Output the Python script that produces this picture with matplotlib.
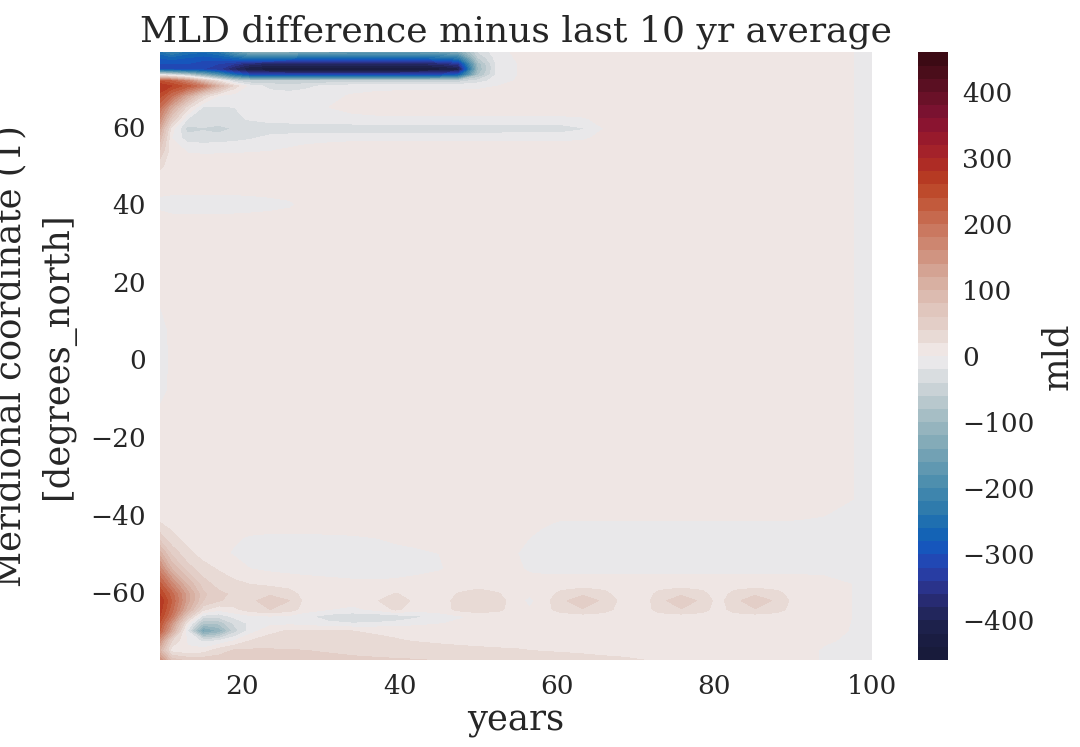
import numpy as np
import matplotlib
matplotlib.use("Agg")
import matplotlib.pyplot as plt
from matplotlib.colors import ListedColormap

plt.rcParams['font.family'] = 'DejaVu Serif'

# Time axis (years) of the gridded MLD anomaly
years = [9.5, 11, 13, 15, 17, 19, 21, 23.5, 26, 28,
         31, 34, 37, 39.5, 42, 45, 47.5, 50, 52.5, 55,
         56.5, 58, 60.5, 63.3, 66, 68.5, 71, 73, 75.8, 78.5,
         80.5, 82.5, 85.2, 88, 90.5, 94, 100]

# Southern Ocean rows
lat_south = [-77.5, -75, -72.5, -70, -68, -66.3, -64.5, -62.2, -60.5, -58, -54, -50, -46, -42]
mld_south = [
    [160, 70, 55, 52, 50, 50, 49, 48, 47, 46, 45, 44, 43, 42, 41, 39, 36, 34, 32, 31,
     30, 29, 27, 25, 23, 22, 20, 18, 16, 15, 14, 13, 12, 10, 7, -2, -6],
    [100, 10, 2, 8, 30, 42, 43, 42, 41, 40, 38, 35, 32, 30, 28, 26, 24, 23, 22, 21,
     20, 19, 18, 17, 16, 15, 14, 13, 12, 12, 11, 11, 10, 10, 7, -2, -6],
    [150, 40, -2, -25, -20, 0, 20, 28, 29, 28, 27, 25, 23, 21, 19, 17, 16, 15, 14, 14,
     13, 13, 12, 12, 12, 11, 11, 11, 11, 10, 10, 10, 10, 10, 8, 2, -6],
    [220, 120, -20, -150, -120, -50, -10, 15, 22, 22, 21, 20, 18, 17, 15, 14, 13, 12, 12, 11,
     11, 11, 11, 11, 11, 10, 10, 10, 10, 10, 10, 10, 10, 10, 8, 5, -5],
    [240, 150, 10, -80, -75, -35, -15, -8, -6, -10, -16, -20, -18, -14, -8, -2, 4, 8, 10, 11,
     11, 11, 11, 11, 11, 11, 10, 10, 10, 10, 10, 10, 10, 10, 8, 6, -5],
    [260, 190, 60, -30, -35, -15, -5, -3, -6, -15, -30, -36, -36, -33, -25, -12, -3, 3, 6, 8,
     8, 9, 9, 10, 10, 10, 10, 10, 10, 10, 10, 10, 10, 10, 8, 7, -5],
    [270, 210, 110, 25, 5, 15, 30, 40, 30, 10, 0, -5, 4, 24, 8, 10, 25, 34, 25, 8,
     2, 10, 28, 38, 28, 10, 10, 28, 38, 28, 10, 28, 38, 28, 9, 7, -5],
    [280, 220, 130, 60, 42, 32, 32, 56, 40, 14, 8, 8, 18, 34, 14, 8, 28, 38, 28, 8,
     -6, 8, 34, 56, 34, 12, 10, 32, 56, 34, 12, 32, 56, 34, 10, 7, -5],
    [260, 210, 130, 65, 45, 36, 30, 36, 28, 12, 6, 5, 8, 22, 8, 6, 22, 32, 22, 6,
     2, 6, 26, 36, 26, 9, 9, 26, 36, 26, 9, 26, 36, 26, 9, 7, -5],
    [230, 170, 100, 50, 32, 25, 20, 16, 12, 8, 5, 3, 2, 3, 5, 6, 8, 9, 9, 8,
     6, 8, 9, 10, 10, 10, 10, 10, 10, 10, 10, 10, 10, 10, 9, 7, -5],
    [170, 100, 50, 28, 18, 8, 0, -4, -6, -6, -6, -6, -5, -5, -4, -1, 3, 6, 5, 2,
     -2, -4, -5, -5, -5, -5, -5, -5, -5, -5, -5, -5, -5, -5, -5, -6, -8],
    [110, 55, 25, 12, 4, -2, -5, -6, -6, -6, -6, -6, -6, -5, -3, 0, 3, 5, 3, 0,
     -3, -5, -6, -6, -6, -6, -6, -6, -6, -6, -6, -6, -6, -6, -6, -6, -8],
    [50, 25, 14, 10, 6, 2, -2, -4, -4, -4, -3, -2, 0, 3, 5, 7, 8, 8, 6, 3,
     0, -3, -4, -4, -4, -4, -4, -4, -4, -4, -4, -4, -4, -4, -4, -5, -8],
    [20, 14, 11, 10, 10, 10, 10, 10, 10, 10, 10, 10, 10, 10, 10, 10, 10, 10, 10, 8,
     5, 2, -1, -1, -1, -1, -1, -1, -1, -1, -1, -1, -1, -1, -1, -3, -8],
]

# Low and mid latitudes
lat_mid = [-36, -20, -8, 0, 8, 25, 35, 40, 45]
mld_mid = [
    [12, 10, 10, 10, 10, 10, 10, 10, 10, 10, 10, 10, 10, 10, 10, 10, 10, 10, 10, 10,
     10, 10, 10, 10, 10, 10, 10, 10, 10, 10, 10, 10, 10, 10, 9, 8, -5],
    [10, 10, 10, 10, 10, 10, 10, 10, 10, 10, 10, 10, 10, 10, 10, 10, 10, 10, 10, 10,
     10, 10, 10, 10, 10, 10, 10, 10, 10, 10, 10, 10, 10, 10, 9, 8, -5],
    [-5, 3, 9, 10, 10, 10, 10, 10, 10, 10, 10, 10, 10, 10, 10, 10, 10, 10, 10, 10,
     10, 10, 10, 10, 10, 10, 10, 10, 10, 10, 10, 10, 10, 10, 9, 8, -5],
    [-6, 2, 9, 10, 10, 10, 10, 10, 10, 10, 10, 10, 10, 10, 10, 10, 10, 10, 10, 10,
     10, 10, 10, 10, 10, 10, 10, 10, 10, 10, 10, 10, 10, 10, 9, 8, -5],
    [-5, 3, 9, 10, 10, 10, 10, 10, 10, 10, 10, 10, 10, 10, 10, 10, 10, 10, 10, 10,
     10, 10, 10, 10, 10, 10, 10, 10, 10, 10, 10, 10, 10, 10, 9, 8, -5],
    [9, 10, 10, 10, 10, 10, 10, 10, 10, 10, 10, 10, 10, 10, 10, 10, 10, 10, 10, 10,
     10, 10, 10, 10, 10, 10, 10, 10, 10, 10, 10, 10, 10, 10, 9, 8, -5],
    [4, 5, 6, 6, 6, 6, 6, 7, 8, 10, 10, 10, 10, 10, 10, 10, 10, 10, 10, 10,
     10, 10, 10, 10, 10, 10, 10, 10, 10, 10, 10, 10, 10, 10, 9, 8, -5],
    [-2, -5, -6, -6, -6, -6, -5, -4, -2, 3, 8, 10, 10, 10, 10, 10, 10, 10, 10, 10,
     10, 10, 10, 10, 10, 10, 10, 10, 10, 10, 10, 10, 10, 10, 9, 8, -5],
    [3, 5, 6, 6, 6, 6, 6, 7, 8, 9, 10, 10, 10, 10, 10, 10, 10, 10, 10, 10,
     10, 10, 10, 10, 10, 10, 10, 10, 10, 10, 10, 10, 10, 10, 9, 8, -5],
]

# Northern high latitudes
lat_north = [50, 54, 57, 59.5, 62, 65, 68, 70.5, 71.8, 73.3, 74.8, 76.3, 77.8, 79.2]
mld_north = [
    [25, 10, 8, 8, 9, 10, 10, 10, 10, 10, 10, 10, 10, 10, 10, 10, 10, 10, 10, 10,
     10, 10, 10, 10, 10, 10, 10, 10, 10, 10, 10, 10, 10, 10, 9, 8, -5],
    [60, 8, -2, -3, -3, -3, -2, -1, 2, 5, 8, 10, 10, 10, 10, 10, 10, 10, 10, 10,
     10, 10, 10, 10, 10, 10, 10, 10, 10, 10, 10, 10, 10, 10, 9, 8, -5],
    [90, 0, -30, -32, -30, -26, -22, -12, -8, -6, -5, -4, -4, -4, -4, -4, -4, -4, -4, -4,
     -4, -4, -4, -2, 4, 8, 10, 10, 10, 10, 10, 10, 10, 10, 9, 8, -5],
    [120, 10, -48, -42, -48, -38, -34, -34, -34, -34, -34, -34, -34, -34, -34, -34, -34, -34, -33, -32,
     -32, -32, -31, -22, 0, 8, 10, 10, 10, 10, 10, 10, 10, 10, 9, 8, -5],
    [160, 60, -20, -24, -26, -24, -18, -12, -10, -8, -6, -5, -4, -4, -4, -4, -4, -4, -4, -4,
     -4, -4, -4, -2, 5, 9, 10, 10, 10, 10, 10, 10, 10, 10, 9, 8, -5],
    [200, 120, 30, -22, -22, -20, -18, -15, -8, -4, 0, 5, 8, 10, 10, 10, 10, 10, 10, 10,
     10, 10, 10, 10, 10, 10, 10, 10, 10, 10, 10, 10, 10, 10, 9, 8, -5],
    [250, 200, 120, 40, -2, -8, -10, -12, -12, -10, -5, 2, 6, 8, 8, 8, 8, 8, 9, 10,
     10, 10, 10, 10, 10, 10, 10, 10, 10, 10, 10, 10, 10, 10, 9, 8, -5],
    [280, 260, 230, 180, 100, 30, -10, -25, -30, -25, -15, -10, -8, -8, -8, -8, -6, -4, 0, 5,
     8, 10, 10, 10, 10, 10, 10, 10, 10, 10, 10, 10, 10, 10, 9, 8, -5],
    [240, 220, 170, 90, 20, -40, -60, -60, -60, -60, -55, -55, -55, -55, -55, -55, -50, -30, -8, 2,
     6, 8, 10, 10, 10, 10, 10, 10, 10, 10, 10, 10, 10, 10, 9, 8, -5],
    [0, -20, -60, -120, -180, -250, -300, -310, -310, -310, -310, -310, -310, -310, -310, -300, -270, -80, -10, 0,
     5, 8, 10, 10, 10, 10, 10, 10, 10, 10, 10, 10, 10, 10, 9, 8, -5],
    [-300, -310, -320, -320, -340, -390, -425, -440, -445, -445, -445, -445, -445, -445, -440, -435, -415, -100, -10, 0,
     5, 8, 10, 10, 10, 10, 10, 10, 10, 10, 10, 10, 10, 10, 9, 8, -5],
    [-300, -300, -300, -310, -320, -340, -370, -380, -380, -380, -380, -380, -380, -380, -380, -370, -340, -90, -10, 0,
     5, 8, 10, 10, 10, 10, 10, 10, 10, 10, 10, 10, 10, 10, 9, 8, -5],
    [-280, -270, -280, -290, -280, -260, -240, -240, -250, -260, -260, -260, -260, -260, -260, -250, -230, -60, -8, 2,
     6, 8, 10, 10, 10, 10, 10, 10, 10, 10, 10, 10, 10, 10, 9, 8, -5],
    [-250, -220, -250, -260, -240, -180, -140, -130, -140, -150, -160, -170, -170, -170, -170, -160, -140, -40, -5, 3,
     6, 8, 10, 10, 10, 10, 10, 10, 10, 10, 10, 10, 10, 10, 9, 8, -5],
]

# Diverging palette, one colour per 20-unit band from -460 to 460
band_colors = [
    '#181b3b', '#1a1d42', '#1d214b', '#22265c', '#272b72', '#2a338b', '#283da3', '#2148b4',
    '#1656bc', '#1463b5', '#1f6fb0', '#2f7bac', '#3e85ad', '#4e8fae', '#6098b1', '#72a1b4',
    '#84abb8', '#95b4be', '#a6bec5', '#b8c8cd', '#c9d2d6', '#d9dde0', '#e9e8ea',
    '#efe6e4', '#e8dad5', '#e3cec7', '#e0c6bd', '#dcbbb0', '#d8b0a2', '#d4a393', '#d09481',
    '#cd8670', '#ca7860', '#c6694e', '#c25a3c', '#bd4a2c', '#b63a23', '#ae2c25', '#a4222a',
    '#981a2c', '#8a1430', '#7a1230', '#6a1128', '#5a0f22', '#4a0d1a', '#3c0a14',
]
levels = np.arange(-460, 461, 20)

lat = np.concatenate([lat_south, lat_mid, lat_north])
mld = np.vstack([mld_south, mld_mid, mld_north])

fig = plt.figure(figsize=(10.8, 7.47), dpi=100)
ax = fig.add_axes([0.148, 0.1165, 0.659, 0.8135])
cax = fig.add_axes([0.850, 0.1165, 0.028, 0.8135])

cs = ax.contourf(years, lat, mld, levels=levels, cmap=ListedColormap(band_colors),
                 vmin=-460, vmax=460)

ax.set_xlim(9.5, 100)
ax.set_ylim(-77.5, 79.2)
ax.set_xticks([20, 40, 60, 80, 100])
ax.set_yticks([-60, -40, -20, 0, 20, 40, 60])
for s in ax.spines.values():
    s.set_visible(False)
ax.tick_params(length=0, labelsize=19, pad=10, colors='#262626')
ax.set_xlabel('years', fontsize=25.5, color='#262626')
ax.set_ylabel('Meridional coordinate (T)\n[degrees_north]', fontsize=25.5,
              color='#262626', labelpad=11, linespacing=1.45)
ax.set_title('MLD difference minus last 10 yr average', fontsize=26, color='#262626', pad=8)

cb = fig.colorbar(cs, cax=cax, ticks=np.arange(-400, 401, 100))
cb.outline.set_visible(False)
cb.ax.tick_params(length=0, labelsize=19, pad=10, colors='#262626')
cb.set_label('mld', fontsize=25.5, color='#262626')

fig.savefig('out.png', dpi=100)
